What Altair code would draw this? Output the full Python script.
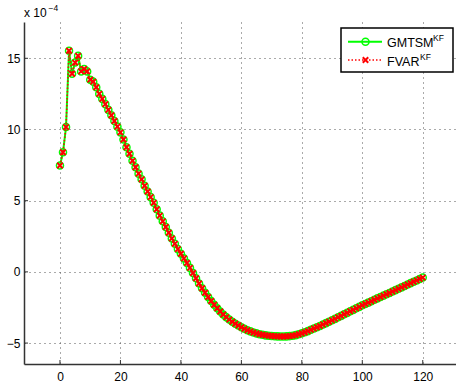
import altair as alt
import pandas as pd

# ---- data (values in units of 1e-4) ----
t = list(range(121))
gmtsm = [
    7.47, 8.40, 10.17, 15.53, 13.92, 14.70, 15.17, 14.08, 14.25, 14.08,
    13.50, 13.36, 12.97, 12.50, 12.15, 11.78, 11.38, 11.00, 10.60, 10.20,
    9.80, 9.30, 8.75, 8.30, 7.80, 7.35, 6.90, 6.50, 6.05, 5.65,
    5.25, 4.85, 4.40, 3.95, 3.55, 3.15, 2.75, 2.35, 1.97, 1.60,
    1.27, 0.95, 0.62, 0.28, -0.08, -0.45, -0.82, -1.15, -1.47, -1.77,
    -2.05, -2.31, -2.55, -2.78, -2.99, -3.18, -3.35, -3.50, -3.64, -3.77,
    -3.89, -4.00, -4.10, -4.18, -4.26, -4.32, -4.38, -4.42, -4.46, -4.48,
    -4.50, -4.52, -4.53, -4.54, -4.54, -4.53, -4.51, -4.48, -4.44, -4.38,
    -4.31, -4.24, -4.16, -4.07, -3.98, -3.89, -3.80, -3.70, -3.60, -3.50,
    -3.40, -3.30, -3.19, -3.09, -2.98, -2.88, -2.77, -2.67, -2.56, -2.46,
    -2.35, -2.25, -2.16, -2.06, -1.96, -1.86, -1.77, -1.67, -1.57, -1.48,
    -1.38, -1.28, -1.18, -1.09, -0.99, -0.89, -0.79, -0.69, -0.60, -0.50,
    -0.40,
]
fvar = list(gmtsm)  # the two series coincide in the picture
x_ticks = [0, 20, 40, 60, 80, 100, 120]
y_ticks = [-5, 0, 5, 10, 15]
series_names = ["GMTSM", "FVAR"]
series_sup = "KF"

df = pd.DataFrame({"t": t, "g": gmtsm, "f": fvar})
xt = pd.DataFrame({"v": x_ticks})
yt = pd.DataFrame({"v": y_ticks})
one = pd.DataFrame({"a": [0]})

FONT = "Liberation Sans"
GREEN = "#00ff00"
RED = "#ff0000"
XPATH = "M-1,-1L1,1M1,-1L-1,1"

xs = alt.Scale(domain=[-11.9, 131.0], nice=False, zero=False)
ys = alt.Scale(domain=[-6.47, 17.55], nice=False, zero=False)

xax = alt.Axis(values=x_ticks, grid=True, gridDash=[1, 4], gridColor="#555",
               gridWidth=1, domainColor="#333", domainWidth=1.5, ticks=False,
               labelPadding=7, labelFont=FONT, labelFontSize=12,
               labelColor="black", title="")
yax = alt.Axis(values=y_ticks, grid=True, gridDash=[1, 4], gridColor="#555",
               gridWidth=1, domainColor="#333", domainWidth=1.5, ticks=False,
               labelPadding=4, labelFont=FONT, labelFontSize=12,
               labelColor="black", title="")

base = alt.Chart(df)
g_line = base.mark_line(color=GREEN, strokeWidth=2).encode(
    x=alt.X("t:Q", scale=xs, axis=xax), y=alt.Y("g:Q", scale=ys, axis=yax))
g_pts = base.mark_point(shape="circle", filled=False, color=GREEN, size=50,
                        strokeWidth=1.5, opacity=1).encode(
    x=alt.X("t:Q", scale=xs, axis=xax), y=alt.Y("g:Q", scale=ys, axis=yax))
r_line = base.mark_line(color=RED, strokeWidth=1.5, strokeDash=[1.5, 2]).encode(
    x=alt.X("t:Q", scale=xs, axis=xax), y=alt.Y("f:Q", scale=ys, axis=yax))
r_pts = base.mark_point(shape=XPATH, color=RED, size=30, strokeWidth=2,
                        opacity=1).encode(
    x=alt.X("t:Q", scale=xs, axis=xax), y=alt.Y("f:Q", scale=ys, axis=yax))

# inward ticks (MATLAB style)
xtick = alt.Chart(xt).mark_rule(color="#333", strokeWidth=1).encode(
    x=alt.X("v:Q", scale=xs, axis=xax), y=alt.value(342), y2=alt.value(338))
ytick = alt.Chart(yt).mark_rule(color="#333", strokeWidth=1).encode(
    y=alt.Y("v:Q", scale=ys, axis=yax), x=alt.value(0), x2=alt.value(4))

# legend box
lc = alt.Chart(one)
box = lc.mark_rect(fill="white", stroke="black", strokeWidth=1.5).encode(
    x=alt.value(317), x2=alt.value(429), y=alt.value(6), y2=alt.value(50))
lg_line = lc.mark_rule(color=GREEN, strokeWidth=2).encode(
    x=alt.value(324), x2=alt.value(358), y=alt.value(19.7))
lg_pt = lc.mark_point(shape="circle", filled=False, color=GREEN, size=50,
                      strokeWidth=1.5, opacity=1).encode(
    x=alt.value(341.5), y=alt.value(19.7))
lr_line = lc.mark_rule(color=RED, strokeWidth=1.5, strokeDash=[1.5, 2]).encode(
    x=alt.value(324), x2=alt.value(358), y=alt.value(38))
lr_pt = lc.mark_point(shape=XPATH, color=RED, size=30, strokeWidth=2,
                      opacity=1).encode(x=alt.value(341.5), y=alt.value(38))
txt = dict(align="left", baseline="alphabetic", font=FONT, color="black")
t1 = lc.mark_text(fontSize=12.5, **txt).encode(
    x=alt.value(363), y=alt.value(24.5), text=alt.value(series_names[0]))
t1s = lc.mark_text(fontSize=8.5, **txt).encode(
    x=alt.value(409), y=alt.value(18.5), text=alt.value(series_sup))
t2 = lc.mark_text(fontSize=12.5, **txt).encode(
    x=alt.value(363), y=alt.value(43.5), text=alt.value(series_names[1]))
t2s = lc.mark_text(fontSize=8.5, **txt).encode(
    x=alt.value(396), y=alt.value(37.5), text=alt.value(series_sup))

# exponent label
e1 = lc.mark_text(fontSize=12, **txt).encode(
    x=alt.value(0), y=alt.value(-5), text=alt.value("x 10"))
e2 = lc.mark_text(fontSize=8.5, **txt).encode(
    x=alt.value(24.5), y=alt.value(-11), text=alt.value("\u22124"))

chart = alt.layer(
    g_line, g_pts, r_line, r_pts, xtick, ytick,
    box, lg_line, lg_pt, lr_line, lr_pt, t1, t1s, t2, t2s, e1, e2
).properties(
    width=432, height=342,
    autosize=alt.AutoSizeParams(type="none"),
    padding={"left": 24, "top": 22, "right": 0, "bottom": 26},
    background="white",
).configure_view(stroke=None)

chart.save("out.html", embed_options={"renderer": "svg", "actions": False})
